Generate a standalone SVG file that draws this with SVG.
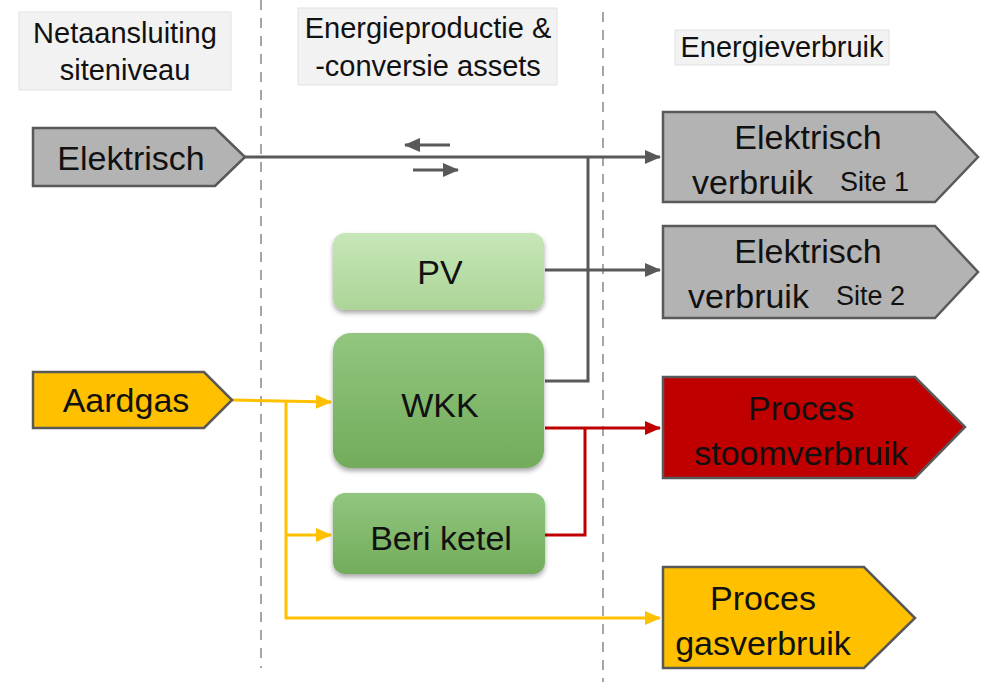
<svg xmlns="http://www.w3.org/2000/svg" width="984" height="682" viewBox="0 0 984 682">
<style>
.hdr{fill:#f2f2f2;stroke:#e2e2e2;stroke-width:1}
.ht{font-family:"Liberation Sans",Arial,sans-serif;font-size:29px;fill:#111;text-anchor:middle}
.t{font-family:"Liberation Sans",Arial,sans-serif;font-size:34px;fill:#111;text-anchor:middle}
.ts{font-family:"Liberation Sans",Arial,sans-serif;font-size:27px;fill:#111}
.pent{stroke:#595959;stroke-width:2.5}
.dash{stroke:#a6a6a6;stroke-width:2;stroke-dasharray:10,8;fill:none}
.g{stroke:#595959;stroke-width:3;fill:none}
.r{stroke:#c00000;stroke-width:3;fill:none}
.y{stroke:#ffc000;stroke-width:3;fill:none}
</style>
<defs>
<marker id="ag" markerUnits="userSpaceOnUse" markerWidth="16" markerHeight="14" refX="15" refY="7" orient="auto"><path d="M0,0 L16,7 L0,14 Z" fill="#595959"/></marker>
<marker id="ar" markerUnits="userSpaceOnUse" markerWidth="16" markerHeight="14" refX="15" refY="7" orient="auto"><path d="M0,0 L16,7 L0,14 Z" fill="#c00000"/></marker>
<marker id="ay" markerUnits="userSpaceOnUse" markerWidth="16" markerHeight="14" refX="15" refY="7" orient="auto"><path d="M0,0 L16,7 L0,14 Z" fill="#ffc000"/></marker>
<linearGradient id="gpv" x1="0" y1="0" x2="0" y2="1"><stop offset="0" stop-color="#c6e7b8"/><stop offset="1" stop-color="#acd497"/></linearGradient>
<linearGradient id="gwkk" x1="0" y1="0" x2="0" y2="1"><stop offset="0" stop-color="#92c67e"/><stop offset="1" stop-color="#72ac5b"/></linearGradient>
<filter id="sh" x="-10%" y="-10%" width="120%" height="130%"><feDropShadow dx="0" dy="3" stdDeviation="2.5" flood-color="#000" flood-opacity="0.35"/></filter>
</defs>

<g id="headers">
<rect class="hdr" x="19" y="12" width="212" height="78"/>
<text class="ht" x="125" y="43">Netaansluiting</text>
<text class="ht" x="125" y="80">siteniveau</text>
<rect class="hdr" x="298" y="8" width="259" height="77"/>
<text class="ht" x="428" y="38">Energieproductie &amp;</text>
<text class="ht" x="428" y="76">-conversie assets</text>
<rect class="hdr" x="675" y="30" width="214" height="35"/>
<text class="ht" x="782" y="57">Energieverbruik</text>
</g>

<g id="dividers">
<line class="dash" x1="261" y1="0" x2="261" y2="668"/>
<line class="dash" x1="603" y1="12" x2="603" y2="682"/>
</g>

<g id="connectors">
<path class="g" d="M245,157 L660,157" marker-end="url(#ag)"/>
<path class="g" d="M450,145 L405,145" marker-end="url(#ag)"/>
<path class="g" d="M413,170 L458,170" marker-end="url(#ag)"/>
<path class="g" d="M545,381 L588,381 L588,157"/>
<path class="g" d="M545,270 L660,270" marker-end="url(#ag)"/>
<path class="r" d="M545,428 L660,428" marker-end="url(#ar)"/>
<path class="r" d="M545,535 L585,535 L585,428"/>
<path class="y" d="M232,400 L331,402" marker-end="url(#ay)"/>
<path class="y" d="M286,400 L286,618 L660,618" marker-end="url(#ay)"/>
<path class="y" d="M286,535 L331,535" marker-end="url(#ay)"/>
</g>

<g id="n-elektrisch">
<path class="pent" fill="#b3b3b3" d="M33,128 L215,128 L245,157 L215,186 L33,186 Z"/>
<text class="t" x="131" y="170">Elektrisch</text>
</g>

<g id="n-aardgas">
<path class="pent" fill="#ffc000" d="M33,372 L204,372 L232,400 L204,428 L33,428 Z"/>
<text class="t" x="126" y="412">Aardgas</text>
</g>

<g id="n-pv">
<rect x="333" y="233" width="211" height="77" rx="12" fill="url(#gpv)" filter="url(#sh)"/>
<text class="t" x="440" y="284">PV</text>
</g>

<g id="n-wkk">
<rect x="333" y="333" width="211" height="135" rx="18" fill="url(#gwkk)" filter="url(#sh)"/>
<text class="t" x="440" y="417">WKK</text>
</g>

<g id="n-beri">
<rect x="333" y="493" width="212" height="81" rx="12" fill="url(#gwkk)" filter="url(#sh)"/>
<text class="t" x="441" y="550">Beri ketel</text>
</g>

<g id="n-site1">
<path class="pent" fill="#b3b3b3" d="M663,112 L935,112 L978,157 L935,202 L663,202 Z"/>
<text class="t" x="808" y="149">Elektrisch</text>
<text class="t" x="692" y="194" style="text-anchor:start">verbruik</text>
<text class="ts" x="840" y="191">Site 1</text>
</g>

<g id="n-site2">
<path class="pent" fill="#b3b3b3" d="M663,226 L935,226 L978,272 L935,318 L663,318 Z"/>
<text class="t" x="808" y="263">Elektrisch</text>
<text class="t" x="688" y="308" style="text-anchor:start">verbruik</text>
<text class="ts" x="836" y="305">Site 2</text>
</g>

<g id="n-stoom">
<path class="pent" fill="#c00000" d="M663,377 L915,377 L965,427 L915,478 L663,478 Z"/>
<text class="t" x="801" y="420">Proces</text>
<text class="t" x="801" y="465">stoomverbruik</text>
</g>

<g id="n-gas">
<path class="pent" fill="#ffc000" d="M663,567 L864,567 L915,618 L864,668 L663,668 Z"/>
<text class="t" x="763" y="610">Proces</text>
<text class="t" x="763" y="655">gasverbruik</text>
</g>
</svg>
